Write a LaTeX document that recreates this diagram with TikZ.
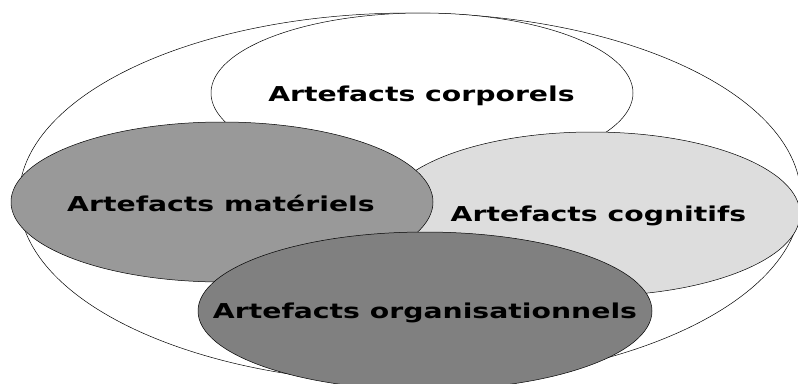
\documentclass[tikz,border=0pt]{standalone}
\usepackage{fontspec}
\newfontfamily\artfont{DejaVu Sans}[FakeStretch=1.38]
\usetikzlibrary{shapes.geometric}
\definecolor{grismat}{gray}{0.6}
\definecolor{griscog}{gray}{0.867}
\definecolor{grisorg}{gray}{0.5}

\begin{document}
\begin{tikzpicture}[line cap=round,line join=round,x=1pt,y=-1pt,
	zone/.style={ellipse,draw=black,line width=0.5pt,inner sep=0pt,outer sep=0pt},
	etiquette/.style={font=\artfont\bfseries\fontsize{20.5}{24}\selectfont,inner sep=0pt,text height=16pt,text depth=0pt}]
			\clip (0,0) rectangle (798,383);
			% grande ellipse englobante
			\node [zone,fill=white,minimum width=782pt,minimum height=370pt] (tout) at (410,198) {};
			% les quatre familles d'artefacts
			\node [zone,fill=white,minimum width=422pt,minimum height=160pt] (corp) at (422,93) {};
			\node [zone,fill=griscog,minimum width=416pt,minimum height=164pt] (cogn) at (592,214) {};
			\node [zone,fill=grismat,minimum width=422pt,minimum height=160pt] (mate) at (222,202) {};
			\node [zone,fill=grisorg,minimum width=454pt,minimum height=158pt] (orga) at (425,311) {};
			% textes
			\node [etiquette] (tcorp) at (421.5,93.7) {Artefacts corporels};
			\node [etiquette] (tmate) at (221,203) {Artefacts matériels};
			\node [etiquette] (tcogn) at (598.5,213) {Artefacts cognitifs};
			\node [etiquette] (torga) at (425,310) {Artefacts organisationnels};
		\end{tikzpicture}
\end{document}
